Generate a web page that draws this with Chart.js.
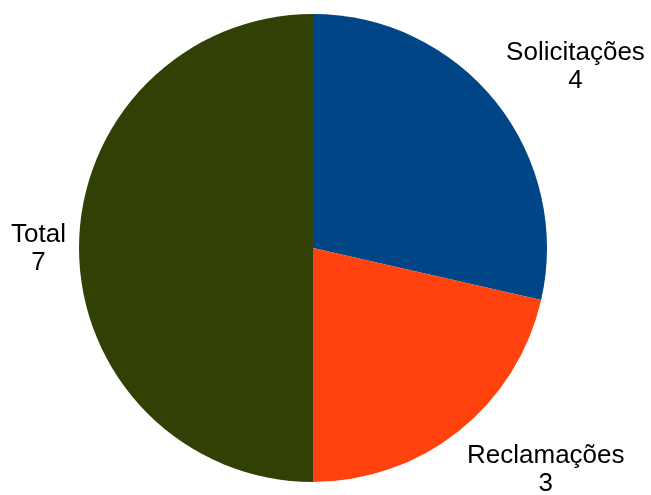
<!DOCTYPE html>
<html>
<head>
<meta charset="utf-8">
<script src="https://cdn.jsdelivr.net/npm/chart.js@4/dist/chart.umd.min.js"></script>
<style>
html,body{margin:0;padding:0;background:#fff;}
#wrap{width:651px;height:495px;position:relative;}
</style>
</head>
<body>
<div id="wrap"><canvas id="c" width="651" height="495"></canvas></div>
<script>
const categories = ["Solicitações", "Reclamações", "Total"];
const values = [4, 3, 7];
const colors = ["#004586", "#ff420e", "#314004"];

const labelPlugin = {
  id: 'outLabels',
  afterDraw(chart) {
    const ctx = chart.ctx;
    const meta = chart.getDatasetMeta(0);
    ctx.save();
    ctx.font = '26px "Liberation Sans", Arial, sans-serif';
    ctx.fillStyle = '#000';
    ctx.textBaseline = 'alphabetic';
    const lineH = 28;
    meta.data.forEach((arc, i) => {
      const p = arc.getProps(['x','y','startAngle','endAngle','outerRadius'], true);
      const mid = (p.startAngle + p.endAngle) / 2;
      const r = p.outerRadius + 13;
      const ax = p.x + Math.cos(mid) * r;
      const ay = p.y + Math.sin(mid) * r;
      const lines = [categories[i], String(values[i])];
      const w = Math.max(...lines.map(l => ctx.measureText(l).width));
      const h = lines.length * lineH;
      const c = Math.cos(mid), s = Math.sin(mid);
      let left, top;
      if (Math.abs(c) < 0.05) left = ax - w / 2; else if (c > 0) left = ax; else left = ax - w;
      if (Math.abs(s) < 0.05) top = ay - h / 2; else if (s > 0) top = ay; else top = ay - h;
      ctx.textAlign = 'center';
      lines.forEach((l, k) => {
        ctx.fillText(l, left + w / 2, top + k * lineH + 22);
      });
    });
    ctx.restore();
  }
};

new Chart(document.getElementById('c'), {
  type: 'pie',
  data: {
    labels: categories,
    datasets: [{ data: values, backgroundColor: colors, borderWidth: 0 }]
  },
  options: {
    responsive: false,
    animation: false,
    layout: { padding: { left: 79, right: 104, top: 14, bottom: 13 } },
    plugins: { legend: { display: false }, tooltip: { enabled: false } }
  },
  plugins: [labelPlugin]
});
</script>
</body>
</html>
